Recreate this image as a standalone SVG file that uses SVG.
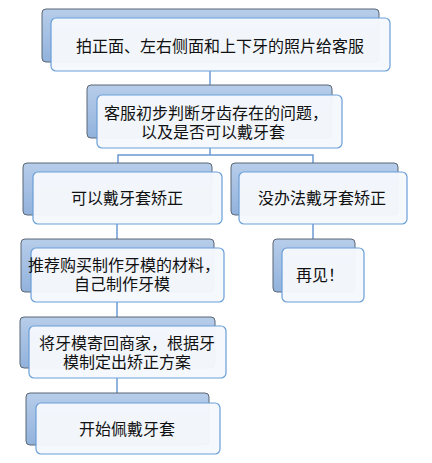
<svg xmlns="http://www.w3.org/2000/svg" width="432" height="463" viewBox="0 0 432 463">
<defs>
<linearGradient id="bg" x1="0" y1="0" x2="0" y2="1">
<stop offset="0" stop-color="#b7cdea"/>
<stop offset="1" stop-color="#92b2dc"/>
</linearGradient>
<style>
.back{fill:url(#bg);stroke:#5b6675;stroke-width:1}
.front{fill:#f5f8fc;fill-opacity:0.97;stroke:#6a9fd8;stroke-width:1.2}
.t{font-family:"Noto Sans CJK SC","Noto Sans",sans-serif;font-size:16px;fill:#111;text-anchor:middle;dominant-baseline:central}
.c{fill:none;stroke:#6b9bd2;stroke-width:1.5}
</style>
</defs>
<rect width="432" height="463" fill="#ffffff"/>
<g id="connectors">
<line class="c" x1="210" y1="71" x2="210" y2="85"/>
<polyline class="c" points="210,148 210,155"/>
<polyline class="c" points="118,163 118,155 313,155 313,163"/>
<line class="c" x1="117" y1="224" x2="117" y2="239"/>
<line class="c" x1="313" y1="224" x2="313" y2="239"/>
<line class="c" x1="117" y1="302" x2="117" y2="317"/>
<line class="c" x1="117" y1="378" x2="117" y2="393"/>
</g>
<g id="n1">
<rect class="back" x="42" y="9" width="337" height="53" rx="4"/>
<rect class="front" x="51" y="18" width="339" height="53" rx="5"/>
<text class="t" x="220" y="45">拍正面、左右侧面和上下牙的照片给客服</text>
</g>
<g id="n2">
<rect class="back" x="87" y="85" width="245" height="53" rx="4"/>
<rect class="front" x="97" y="95" width="245" height="53" rx="5"/>
<text class="t" x="216" y="111.5">客服初步判断牙齿存在的问题，</text>
<text class="t" x="213" y="130.5">以及是否可以戴牙套</text>
</g>
<g id="n3">
<rect class="back" x="23" y="163" width="189" height="52" rx="4"/>
<rect class="front" x="33" y="172" width="189" height="52" rx="5"/>
<text class="t" x="127" y="197">可以戴牙套矫正</text>
</g>
<g id="n4">
<rect class="back" x="231" y="163" width="167" height="52" rx="4"/>
<rect class="front" x="239" y="172" width="168" height="52" rx="5"/>
<text class="t" x="322" y="197">没办法戴牙套矫正</text>
</g>
<g id="n5">
<rect class="back" x="21" y="239" width="193" height="53" rx="4"/>
<rect class="front" x="31" y="248" width="193" height="54" rx="5"/>
<text class="t" x="124" y="264">推荐购买制作牙模的材料，</text>
<text class="t" x="122" y="283">自己制作牙模</text>
</g>
<g id="n6">
<rect class="back" x="273" y="239" width="82" height="53" rx="4"/>
<rect class="front" x="282" y="248" width="82" height="54" rx="5"/>
<text class="t" x="320" y="274">再见！</text>
</g>
<g id="n7">
<rect class="back" x="20" y="317" width="195" height="51" rx="4"/>
<rect class="front" x="29" y="326" width="197" height="52" rx="5"/>
<text class="t" x="127" y="341.5">将牙模寄回商家，根据牙</text>
<text class="t" x="127" y="360.5">模制定出矫正方案</text>
</g>
<g id="n8">
<rect class="back" x="26" y="393" width="183" height="52" rx="4"/>
<rect class="front" x="36" y="403" width="184" height="51" rx="5"/>
<text class="t" x="127" y="428">开始佩戴牙套</text>
</g>
</svg>
